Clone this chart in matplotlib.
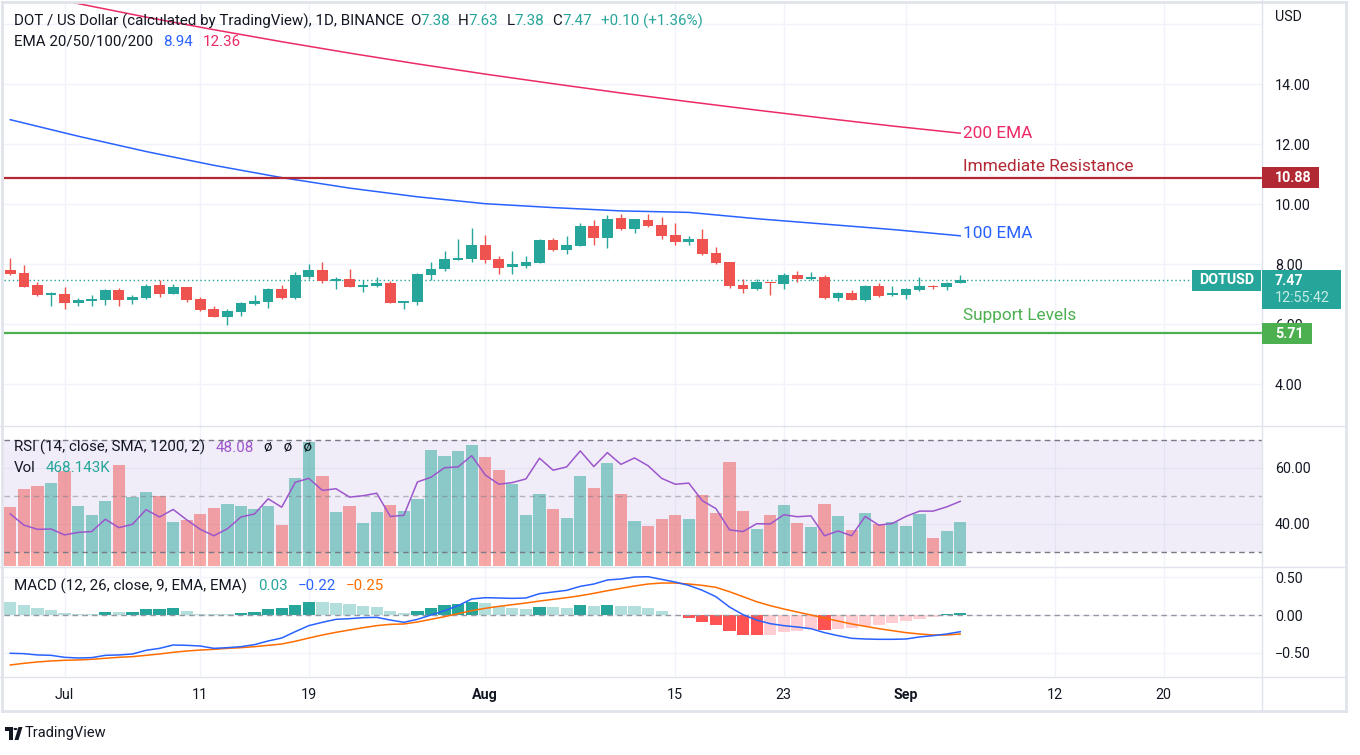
import matplotlib
matplotlib.use("Agg")
import matplotlib.pyplot as plt
from matplotlib.lines import Line2D
from matplotlib.patches import Rectangle, Circle, Polygon
import pandas as pd


OUTPUT = "out.png"
W_PX, H_PX = 1360, 755
DPI = 100

# ---- data (DOT/USD daily, Binance) ----
START_DATE = "2021-06-27"

OPEN = [7.80, 7.70, 7.30, 6.97, 7.00, 6.70, 6.77, 6.80, 7.13, 6.80,
        6.87, 7.30, 7.00, 7.23, 6.83, 6.50, 6.23, 6.40, 6.67, 6.73,
        7.17, 6.87, 7.57, 7.80, 7.43, 7.50, 7.23, 7.27, 7.37, 6.70,
        6.73, 7.63, 7.83, 8.13, 8.17, 8.63, 8.17, 7.90, 7.93, 8.03,
        8.80, 8.47, 8.60, 9.27, 8.87, 9.53, 9.17, 9.47, 9.30, 8.97,
        8.73, 8.83, 8.37, 8.07, 7.30, 7.17, 7.40, 7.33, 7.63, 7.50,
        7.57, 6.87, 7.03, 6.80, 7.27, 6.97, 6.97, 7.13, 7.27, 7.23, 7.38]
HIGH = [8.20, 7.97, 7.39, 7.07, 7.23, 6.87, 6.97, 7.17, 7.20, 6.97,
        7.33, 7.47, 7.33, 7.24, 6.90, 6.60, 6.50, 6.73, 6.97, 7.20,
        7.30, 7.73, 8.00, 8.07, 7.57, 7.83, 7.47, 7.57, 7.43, 6.78,
        7.70, 8.07, 8.43, 8.83, 9.20, 8.97, 8.27, 8.43, 8.27, 8.83,
        8.87, 8.93, 9.37, 9.47, 9.63, 9.67, 9.51, 9.67, 9.57, 9.37,
        8.93, 9.17, 8.57, 8.07, 7.50, 7.50, 7.41, 7.70, 7.77, 7.73,
        7.63, 7.07, 7.13, 7.30, 7.37, 7.27, 7.20, 7.57, 7.30, 7.40, 7.63]
LOW = [7.65, 7.22, 6.93, 6.60, 6.50, 6.60, 6.60, 6.63, 6.60, 6.67,
       6.85, 6.90, 6.99, 6.73, 6.45, 6.22, 5.97, 6.27, 6.63, 6.53,
       6.85, 6.85, 7.50, 7.37, 7.17, 7.22, 7.07, 7.25, 6.69, 6.50,
       6.63, 7.47, 7.77, 8.12, 8.07, 8.03, 7.67, 7.67, 7.87, 8.02,
       8.45, 8.33, 8.59, 8.63, 8.53, 9.13, 9.03, 9.25, 8.83, 8.63,
       8.63, 8.30, 8.00, 7.20, 7.03, 7.15, 6.97, 7.17, 7.40, 7.47,
       6.83, 6.77, 6.79, 6.77, 6.90, 6.95, 6.83, 7.10, 7.17, 7.13, 7.38]
CLOSE = [7.67, 7.23, 6.97, 7.02, 6.70, 6.80, 6.83, 7.13, 6.80, 6.90,
         7.27, 7.00, 7.23, 6.80, 6.47, 6.23, 6.43, 6.70, 6.77, 7.17,
         6.87, 7.63, 7.80, 7.43, 7.50, 7.23, 7.30, 7.37, 6.70, 6.77,
         7.67, 7.83, 8.17, 8.20, 8.63, 8.13, 7.87, 8.00, 8.07, 8.80,
         8.47, 8.63, 9.27, 8.87, 9.50, 9.17, 9.50, 9.27, 8.93, 8.73,
         8.83, 8.33, 8.03, 7.27, 7.17, 7.40, 7.37, 7.63, 7.50, 7.57,
         6.87, 7.03, 6.80, 7.27, 6.93, 7.03, 7.17, 7.27, 7.23, 7.37, 7.47]
VOLUME_K = [628, 819, 851, 883, 1008, 638, 543, 692, 1075, 734,
            787, 745, 468, 489, 553, 617, 660, 638, 606, 638,
            436, 936, 1319, 958, 575, 638, 458, 575, 649, 585,
            713, 1234, 1170, 1224, 1287, 1160, 1021, 872, 543, 766,
            606, 511, 958, 830, 1096, 766, 479, 426, 500, 543,
            500, 755, 564, 1107, 585, 394, 543, 649, 458, 415,
            660, 532, 383, 564, 447, 468, 426, 553, 298, 372, 468.143]
RSI = [43.6, 39.6, 38.1, 38.2, 36.1, 37.0, 37.3, 41.7, 38.7, 39.9,
       45.1, 42.5, 45.2, 41.5, 38.1, 35.8, 38.3, 42.5, 43.6, 49.0,
       46.0, 54.9, 56.3, 52.0, 52.6, 49.6, 50.1, 51.0, 42.7, 43.1,
       55.0, 56.7, 60.1, 60.4, 64.4, 57.5, 54.2, 54.8, 56.1, 63.5,
       59.2, 60.4, 66.1, 60.5, 65.5, 61.3, 63.6, 60.8, 56.3, 54.2,
       54.6, 48.3, 45.5, 37.9, 37.3, 40.1, 40.0, 43.3, 42.6, 42.9,
       35.8, 37.5, 35.8, 42.7, 39.6, 40.2, 42.7, 44.6, 44.6, 46.1, 48.08]
MACD = [-0.504, -0.509, -0.526, -0.531, -0.557, -0.566, -0.561, -0.531, -0.526, -0.513,
        -0.465, -0.439, -0.395, -0.399, -0.408, -0.439, -0.430, -0.417, -0.390, -0.342,
        -0.303, -0.219, -0.140, -0.096, -0.057, -0.048, -0.035, -0.031, -0.066, -0.096,
        -0.057, 0.000, 0.057, 0.123, 0.211, 0.228, 0.224, 0.219, 0.224, 0.281,
        0.303, 0.325, 0.377, 0.408, 0.461, 0.474, 0.500, 0.504, 0.469, 0.434,
        0.390, 0.325, 0.241, 0.105, 0.004, -0.066, -0.114, -0.140, -0.158, -0.180,
        -0.232, -0.272, -0.307, -0.316, -0.320, -0.320, -0.316, -0.289, -0.272, -0.250, -0.220]
SIGNAL = [-0.658, -0.636, -0.618, -0.605, -0.596, -0.592, -0.583, -0.570, -0.557, -0.548,
          -0.531, -0.513, -0.491, -0.474, -0.461, -0.452, -0.439, -0.430, -0.417, -0.399,
          -0.382, -0.346, -0.303, -0.263, -0.228, -0.197, -0.167, -0.140, -0.123, -0.118,
          -0.092, -0.057, -0.022, 0.018, 0.057, 0.088, 0.114, 0.136, 0.158, 0.184,
          0.206, 0.228, 0.254, 0.285, 0.320, 0.351, 0.382, 0.408, 0.421, 0.421,
          0.408, 0.390, 0.364, 0.307, 0.241, 0.175, 0.123, 0.079, 0.039, 0.000,
          -0.039, -0.079, -0.118, -0.149, -0.180, -0.206, -0.232, -0.250, -0.263, -0.263, -0.250]
HIST = [0.171, 0.132, 0.092, 0.066, 0.026, 0.013, 0.010, 0.036, 0.033, 0.039,
        0.079, 0.082, 0.092, 0.053, 0.013, 0.012, 0.010, 0.026, 0.039, 0.079,
        0.092, 0.132, 0.171, 0.168, 0.158, 0.145, 0.118, 0.105, 0.053, 0.026,
        0.053, 0.092, 0.132, 0.145, 0.171, 0.158, 0.118, 0.092, 0.079, 0.105,
        0.103, 0.092, 0.132, 0.118, 0.132, 0.120, 0.116, 0.092, 0.053, 0.004,
        -0.039, -0.092, -0.132, -0.211, -0.258, -0.263, -0.260, -0.224, -0.211, -0.184,
        -0.197, -0.184, -0.171, -0.145, -0.132, -0.105, -0.079, -0.053, -0.026, 0.013, 0.030]

# EMA values read every 5 bars
EMA_DAY = [0, 5, 10, 15, 20, 25, 30, 35, 40, 45, 50, 55, 60, 65, 70]
EMA100 = [12.81, 12.26, 11.75, 11.29, 10.88, 10.53, 10.24, 10.01, 9.88, 9.77,
          9.72, 9.51, 9.33, 9.15, 8.94]
EMA200 = [17.16, 16.68, 16.23, 15.81, 15.41, 15.03, 14.67, 14.33, 14.01, 13.70,
          13.41, 13.13, 12.86, 12.60, 12.36]

RESISTANCE = 10.88
SUPPORT = 5.71
LAST_PRICE = 7.47

TICK_DATES = ["2021-07-01", "2021-07-11", "2021-07-19", "2021-08-01", "2021-08-15",
              "2021-08-23", "2021-09-01", "2021-09-12", "2021-09-20"]
TICK_LABELS = ["Jul", "11", "19", "Aug", "15", "23", "Sep", "12", "20"]
BOLD_LABELS = ["Aug", "Sep"]

PRICE_TICKS = [4, 6, 8, 10, 12, 14]
PRICE_GRID = [4, 6, 8, 10, 12, 14, 16]
RSI_TICKS = [40, 60]
MACD_TICKS = [-0.5, 0.0, 0.5]
MACD_TICK_LABELS = ["\u22120.50", "0.00", "0.50"]

# ---- layout (pixels of the 1360x755 image) ----
PLOT_LEFT_PX = 4
AXIS_PX = 1262
FRAME_RIGHT_PX = 1346
FRAME_BOTTOM_PX = 711
DAY_PX = 13.57
FIRST_BAR_PX = 10.3
PRICE_BOX = (4, 3, 1262, 426)
RSI_BOX = (4, 427, 1262, 566)
MACD_BOX = (4, 567, 1262, 676)
PRICE_YLIM = (2.6, 16.7)
RSI_YLIM = (25.0, 74.64)
VOL_YLIM = (0, 1479)
MACD_YLIM = (-0.803, 0.632)

TEXT = "#131722"
GRID = "#f0f3fa"
BORDER = "#e0e3eb"
TEAL = "#26a69a"
RED = "#ef5350"
BLUE = "#2962ff"
PINK = "#ec2a66"
DARK_RED = "#b22833"
GREEN = "#4caf50"
PURPLE = "#9c56cc"
ORANGE = "#ff6d00"
HIST_UP = "#26a69a"
HIST_UP_FADE = "#b2dfdb"
HIST_DN = "#ff5252"
HIST_DN_FADE = "#ffcdd2"
LEVEL_GRAY = "#787b86"

AXIS_FONT = 10.3
LEGEND_FONT = 10.9
NOTE_FONT = 12.4

plt.rcParams["font.family"] = ["Roboto", "DejaVu Sans"]


def fx(px):
    return px / W_PX


def fy(py):
    return 1.0 - py / H_PX


def add_axes_px(fig, box, **kw):
    x0, y0, x1, y1 = box
    return fig.add_axes([fx(x0), fy(y1), (x1 - x0) / W_PX, (y1 - y0) / H_PX], **kw)


def fig_line(fig, x0, y0, x1, y1, color=BORDER, lw=1.0):
    fig.add_artist(Line2D([fx(x0), fx(x1)], [fy(y0), fy(y1)], transform=fig.transFigure,
                          color=color, linewidth=lw, zorder=5))


def fig_box(fig, x0, y0, x1, y1, color):
    fig.add_artist(Rectangle((fx(x0), fy(y1)), (x1 - x0) / W_PX, (y1 - y0) / H_PX,
                             transform=fig.transFigure, facecolor=color, edgecolor="none", zorder=6))


def fig_text(fig, x, y, s, color=TEXT, size=AXIS_FONT, ha="left", weight="normal"):
    return fig.text(fx(x), fy(y), s, color=color, fontsize=size, ha=ha, va="center",
                    fontweight=weight, zorder=7)


def text_runs(fig, x, y, runs, size=LEGEND_FONT):
    renderer = fig.canvas.get_renderer()
    for s, color, gap in runs:
        t = fig_text(fig, x, y, s, color=color, size=size)
        x += t.get_window_extent(renderer).width + gap


def xlim():
    return (-(FIRST_BAR_PX - PLOT_LEFT_PX) / DAY_PX, (AXIS_PX - FIRST_BAR_PX) / DAY_PX)


def tick_days():
    start = pd.Timestamp(START_DATE)
    return [(pd.Timestamp(d) - start).days for d in TICK_DATES]


def style_pane(ax, ylim, ticks, labels, grid):
    ax.set_xlim(*xlim())
    ax.set_ylim(*ylim)
    for s in ax.spines.values():
        s.set_visible(False)
    ax.set_xticks([])
    ax.yaxis.tick_right()
    ax.set_yticks(ticks, labels=labels)
    ax.tick_params(axis="y", length=0, pad=9.4, labelsize=AXIS_FONT, labelcolor=TEXT)
    for v in grid:
        ax.axhline(v, color=GRID, linewidth=1.0, zorder=0)
    for d in tick_days():
        ax.axvline(d, color=GRID, linewidth=1.0, zorder=0)


def overlay(fig, box, ylim):
    ax = add_axes_px(fig, box)
    ax.set_xlim(*xlim())
    ax.set_ylim(*ylim)
    ax.set_axis_off()
    return ax


def candle_colors():
    return [TEAL if c >= o else RED for o, c in zip(OPEN, CLOSE)]


def hist_colors():
    colors = []
    for i, h in enumerate(HIST):
        rising = i > 0 and h > HIST[i - 1]
        if h >= 0:
            colors.append(HIST_UP if rising else HIST_UP_FADE)
        else:
            colors.append(HIST_DN_FADE if rising else HIST_DN)
    return colors


def draw_price(fig):
    ax = add_axes_px(fig, PRICE_BOX)
    style_pane(ax, PRICE_YLIM, PRICE_TICKS, [f"{v:.2f}" for v in PRICE_TICKS], PRICE_GRID)
    days = list(range(len(CLOSE)))
    colors = candle_colors()

    ax.plot(EMA_DAY, EMA200, color=PINK, linewidth=1.1, zorder=2)
    ax.plot(EMA_DAY, EMA100, color=BLUE, linewidth=1.1, zorder=2)
    ax.axhline(RESISTANCE, color=DARK_RED, linewidth=1.6, zorder=2)
    ax.axhline(SUPPORT, color=GREEN, linewidth=1.6, zorder=2)
    ax.axhline(LAST_PRICE, xmax=(1192 - PLOT_LEFT_PX) / (AXIS_PX - PLOT_LEFT_PX),
               color=TEAL, linewidth=1.0, linestyle=(0, (1, 2)), zorder=2)

    bottoms = [min(o, c) for o, c in zip(OPEN, CLOSE)]
    heights = [max(abs(c - o), 0.035) for o, c in zip(OPEN, CLOSE)]
    ax.vlines(days, LOW, HIGH, colors=colors, linewidth=1.0, zorder=3)
    ax.bar(days, heights, bottom=bottoms, width=0.79, color=colors, linewidth=0, zorder=4)

    fig_text(fig, 963, 133, "200 EMA", color=PINK, size=NOTE_FONT)
    fig_text(fig, 963, 166.5, "Immediate Resistance", color=DARK_RED, size=NOTE_FONT)
    fig_text(fig, 963, 233, "100 EMA", color=BLUE, size=NOTE_FONT)
    fig_text(fig, 963, 316, "Support Levels", color=GREEN, size=NOTE_FONT)


def draw_rsi_volume(fig):
    ax = add_axes_px(fig, RSI_BOX)
    style_pane(ax, RSI_YLIM, RSI_TICKS, [f"{v:.2f}" for v in RSI_TICKS], RSI_TICKS)
    ax.axhspan(30, 70, color="#7e57c2", alpha=0.1, linewidth=0, zorder=0)

    days = list(range(len(CLOSE)))
    ax_v = overlay(fig, RSI_BOX, VOL_YLIM)
    ax_v.bar(days, VOLUME_K, width=0.9, color=candle_colors(), alpha=0.5, linewidth=0)

    ax_l = overlay(fig, RSI_BOX, RSI_YLIM)
    for level, a in ((70, 1.0), (50, 0.5), (30, 1.0)):
        ax_l.axhline(level, color=LEVEL_GRAY, alpha=a, linewidth=1.0, linestyle=(0, (4, 3)))
    ax_l.plot(days, RSI, color=PURPLE, linewidth=1.1)


def draw_macd(fig):
    ax = add_axes_px(fig, MACD_BOX)
    style_pane(ax, MACD_YLIM, MACD_TICKS, MACD_TICK_LABELS, MACD_TICKS)
    days = list(range(len(CLOSE)))
    ax.bar(days, HIST, width=0.9, color=hist_colors(), linewidth=0, zorder=2)
    ax.axhline(0, color="#9598a1", linewidth=1.0, linestyle=(0, (4, 3)), zorder=3)
    ax.plot(days, SIGNAL, color=ORANGE, linewidth=1.1, zorder=4)
    ax.plot(days, MACD, color=BLUE, linewidth=1.1, zorder=5)

    ax.set_xticks(tick_days(), labels=TICK_LABELS)
    ax.tick_params(axis="x", length=0, pad=8.5, labelsize=AXIS_FONT, labelcolor=TEXT)
    for lab in ax.get_xticklabels():
        if lab.get_text() in BOLD_LABELS:
            lab.set_fontweight("bold")


def draw_frame(fig):
    fig_line(fig, 1.5, 1.5, FRAME_RIGHT_PX, 1.5, lw=2.0)
    fig_line(fig, 1.5, 1.5, 1.5, FRAME_BOTTOM_PX, lw=2.0)
    fig_line(fig, FRAME_RIGHT_PX, 1.5, FRAME_RIGHT_PX, FRAME_BOTTOM_PX, lw=2.0)
    fig_line(fig, 1.5, FRAME_BOTTOM_PX, FRAME_RIGHT_PX, FRAME_BOTTOM_PX, lw=2.0)
    fig_line(fig, 0, 426.5, FRAME_RIGHT_PX, 426.5)
    fig_line(fig, 0, 566.5, FRAME_RIGHT_PX, 566.5)
    fig_line(fig, 0, 676.5, FRAME_RIGHT_PX, 676.5)
    fig_line(fig, AXIS_PX, 0, AXIS_PX, FRAME_BOTTOM_PX)


def draw_axis_labels(fig):
    fig_text(fig, 1275, 17, "USD")
    fig_box(fig, 1262, 167, 1319, 188, DARK_RED)
    fig_text(fig, 1275, 177.5, f"{RESISTANCE:.2f}", color="white", weight="bold")
    fig_box(fig, 1192, 270, 1261, 291, TEAL)
    fig_text(fig, 1226.5, 280.5, "DOTUSD", color="white", ha="center", weight="bold")
    fig_box(fig, 1262, 270, 1341, 309, TEAL)
    fig_text(fig, 1275, 281, f"{LAST_PRICE:.2f}", color="white", weight="bold")
    fig_text(fig, 1275, 298, "12:55:42", color="#c8ebe6")
    fig_box(fig, 1262, 323, 1312, 344, GREEN)
    fig_text(fig, 1275, 333.5, f"{SUPPORT:.2f}", color="white", weight="bold")


def draw_legends(fig):
    text_runs(fig, 14, 21, [
        ("DOT / US Dollar (calculated by TradingView), 1D, BINANCE", TEXT, 6),
        ("O", TEXT, 0), ("7.38", TEAL, 8),
        ("H", TEXT, 0), ("7.63", TEAL, 8),
        ("L", TEXT, 0), ("7.38", TEAL, 8),
        ("C", TEXT, 0), ("7.47", TEAL, 9),
        ("+0.10 (+1.36%)", TEAL, 0),
    ])
    text_runs(fig, 14, 42, [
        ("EMA 20/50/100/200", TEXT, 10), ("8.94", BLUE, 10), ("12.36", PINK, 0),
    ])
    text_runs(fig, 14, 447.5, [
        ("RSI (14, close, SMA, 1200, 2)", TEXT, 10), ("48.08", PURPLE, 11),
        ("\u00f8   \u00f8   \u00f8", TEXT, 0),
    ])
    text_runs(fig, 14, 467.5, [("Vol", TEXT, 10), ("468.143K", TEAL, 0)])
    text_runs(fig, 14, 586, [
        ("MACD (12, 26, close, 9, EMA, EMA)", TEXT, 11), ("0.03", TEAL, 10),
        ("\u22120.22", BLUE, 10), ("\u22120.25", ORANGE, 0),
    ])


def draw_logo(fig):
    fig_box(fig, 5, 727, 13, 731, TEXT)
    fig_box(fig, 9, 727, 13, 740, TEXT)
    fig.add_artist(Circle((fx(15.5), fy(729)), 2.0 / W_PX, transform=fig.transFigure,
                          facecolor=TEXT, edgecolor="none"))
    fig.add_artist(Polygon([(fx(14.5), fy(740)), (fx(18.5), fy(727)), (fx(22.5), fy(727)),
                            (fx(18.5), fy(740))], closed=True, transform=fig.transFigure,
                           facecolor=TEXT, edgecolor="none"))
    fig_text(fig, 25, 733.5, "TradingView", size=10.5)


def main():
    fig = plt.figure(figsize=(W_PX / DPI, H_PX / DPI), dpi=DPI)
    fig.patch.set_facecolor("white")
    draw_price(fig)
    draw_rsi_volume(fig)
    draw_macd(fig)
    draw_frame(fig)
    draw_axis_labels(fig)
    draw_legends(fig)
    draw_logo(fig)
    fig.savefig(OUTPUT, dpi=DPI)
    plt.close(fig)


if __name__ == "__main__":
    main()
